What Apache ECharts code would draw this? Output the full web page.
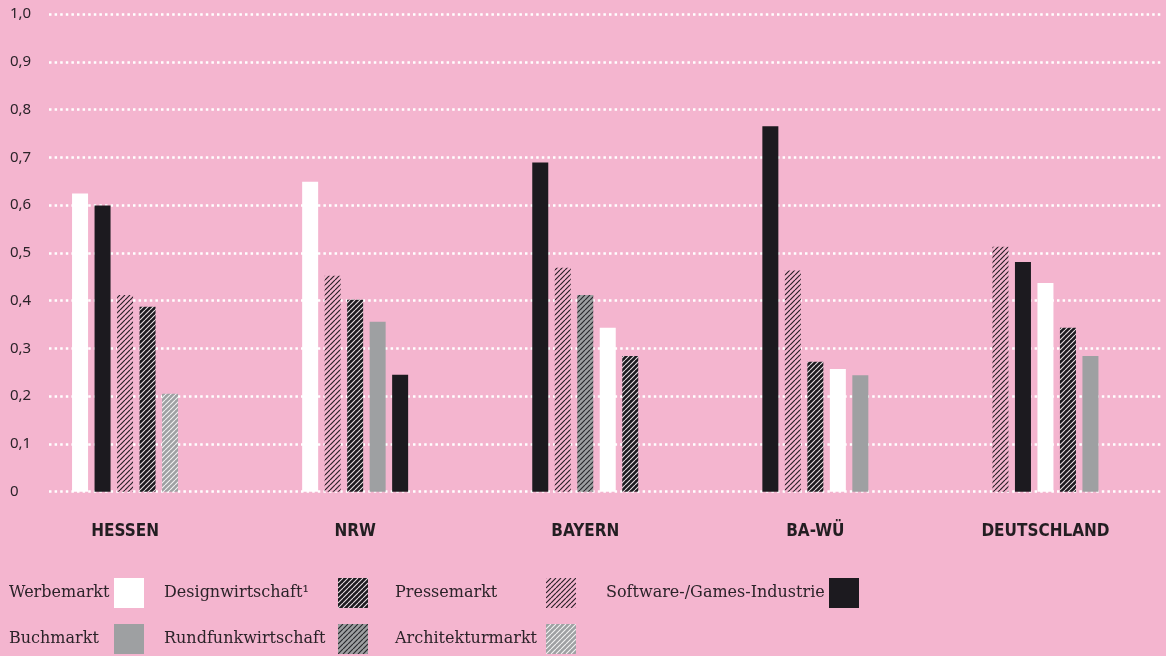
<!DOCTYPE html>
<html>
<head>
<meta charset="utf-8">
<script src="https://cdn.jsdelivr.net/npm/echarts@6/dist/echarts.min.js"></script>
<style>
html,body{margin:0;padding:0;background:#F4B5CF;}
#chart{width:1166px;height:656px;}
</style>
</head>
<body>
<div id="chart"></div>
<script>
// ---- data ----
const groups = ['HESSEN', 'NRW', 'BAYERN', 'BA-WÜ', 'DEUTSCHLAND'];
const sectors = ['Werbemarkt', 'Designwirtschaft', 'Pressemarkt', 'Software-/Games-Industrie',
                 'Buchmarkt', 'Rundfunkwirtschaft', 'Architekturmarkt'];
const hessenSectors = ['Werbemarkt', 'Software-/Games-Industrie', 'Pressemarkt', 'Designwirtschaft', 'Architekturmarkt'];
const hessenValues  = [0.624, 0.599, 0.412, 0.387, 0.205];
const nrwSectors    = ['Werbemarkt', 'Pressemarkt', 'Designwirtschaft', 'Buchmarkt', 'Software-/Games-Industrie'];
const nrwValues     = [0.649, 0.452, 0.402, 0.356, 0.245];
const bayernSectors = ['Software-/Games-Industrie', 'Pressemarkt', 'Rundfunkwirtschaft', 'Werbemarkt', 'Designwirtschaft'];
const bayernValues  = [0.689, 0.469, 0.412, 0.343, 0.284];
const bawueSectors  = ['Software-/Games-Industrie', 'Pressemarkt', 'Designwirtschaft', 'Werbemarkt', 'Buchmarkt'];
const bawueValues   = [0.765, 0.463, 0.272, 0.257, 0.244];
const deSectors     = ['Pressemarkt', 'Software-/Games-Industrie', 'Werbemarkt', 'Designwirtschaft', 'Buchmarkt'];
const deValues      = [0.513, 0.481, 0.437, 0.343, 0.284];

const groupSectors = [hessenSectors, nrwSectors, bayernSectors, bawueSectors, deSectors];
const groupValues  = [hessenValues, nrwValues, bayernValues, bawueValues, deValues];

// ---- styles ----
const PINK = '#F4B5CF', BLACK = '#1C1A1F', GRAY = '#9EA0A2', TEXT = '#2B2329';
function stripes(bg, fg, lw) {
  const s = 5;
  const c = document.createElement('canvas');
  c.width = s; c.height = s;
  const ctx = c.getContext('2d');
  ctx.fillStyle = bg; ctx.fillRect(0, 0, s, s);
  ctx.strokeStyle = fg; ctx.lineWidth = lw;
  ctx.beginPath();
  for (let k = -1; k <= 1; k++) {
    ctx.moveTo(k * s, s); ctx.lineTo(k * s + s, 0);
  }
  ctx.stroke();
  return { image: c, repeat: 'repeat' };
}
const fills = {
  'Werbemarkt': '#FFFFFF',
  'Designwirtschaft': stripes(BLACK, '#E6DFE3', 1.1),
  'Pressemarkt': stripes(PINK, '#2A2228', 1.2),
  'Software-/Games-Industrie': BLACK,
  'Buchmarkt': GRAY,
  'Rundfunkwirtschaft': stripes(GRAY, '#2A2A2E', 1.2),
  'Architekturmarkt': stripes(GRAY, '#F2F2F2', 1.1)
};

const chart = echarts.init(document.getElementById('chart'));

const rankSeries = [0, 1, 2, 3, 4].map(r => ({
  type: 'bar',
  name: 'rank' + r,
  xAxisIndex: 1, yAxisIndex: 1,
  barWidth: 16,
  barGap: '40.6%',
  silent: true,
  data: groups.map((g, gi) => ({
    value: groupValues[gi][r],
    itemStyle: { color: fills[groupSectors[gi][r]] }
  }))
}));

const legendSeries = sectors.map(s => ({
  type: 'bar', name: s, xAxisIndex: 0, yAxisIndex: 0, data: [],
  itemStyle: { color: fills[s] }
}));

function legendCol(names, left, w) {
  return {
    data: names, orient: 'vertical', left: left, top: 578, padding: 0,
    itemWidth: 30, itemHeight: 30, itemGap: 16, align: 'right', icon: 'rect',
    selectedMode: false,
    formatter: n => '{t|' + (n === 'Designwirtschaft' ? n + '\u00B9' : n) + '}',
    textStyle: {
      rich: { t: { width: w, align: 'left', fontFamily: 'DejaVu Serif', fontSize: 16, color: TEXT } }
    }
  };
}

const option = {
  backgroundColor: PINK,
  animation: false,
  grid: [
    { left: 49, right: 5, top: 14, bottom: 164.3 },
    { left: 10, right: 5.5, top: 14, bottom: 164.3 }
  ],
  xAxis: [
    { type: 'category', gridIndex: 0, data: groups, show: false },
    {
      type: 'category', gridIndex: 1, data: groups,
      axisLine: { show: false }, axisTick: { show: false },
      axisLabel: {
        margin: 31, color: '#231E22', fontFamily: 'DejaVu Sans Condensed',
        fontWeight: 'bold', fontSize: 17, lineHeight: 17
      }
    }
  ],
  yAxis: [
    {
      type: 'value', gridIndex: 0, min: 0, max: 1, interval: 0.1,
      axisLine: { show: false }, axisTick: { show: false },
      axisLabel: {
        align: 'left', margin: 39, color: TEXT, fontFamily: 'Noto Sans', fontSize: 15,
        formatter: v => v === 0 ? '0' : v.toFixed(1).replace('.', ',')
      },
      splitLine: { lineStyle: { color: '#FFFFFF', width: 2.6, type: [2.5, 3.1] } }
    },
    { type: 'value', gridIndex: 1, min: 0, max: 1, interval: 0.1, show: false, splitLine: { show: false } }
  ],
  legend: [
    legendCol(['Werbemarkt', 'Buchmarkt'], 9, 100),
    legendCol(['Designwirtschaft', 'Rundfunkwirtschaft'], 164, 169),
    legendCol(['Pressemarkt', 'Architekturmarkt'], 395, 146),
    legendCol(['Software-/Games-Industrie'], 606, 218)
  ],
  series: rankSeries.concat(legendSeries)
};
chart.setOption(option);
</script>
</body>
</html>
